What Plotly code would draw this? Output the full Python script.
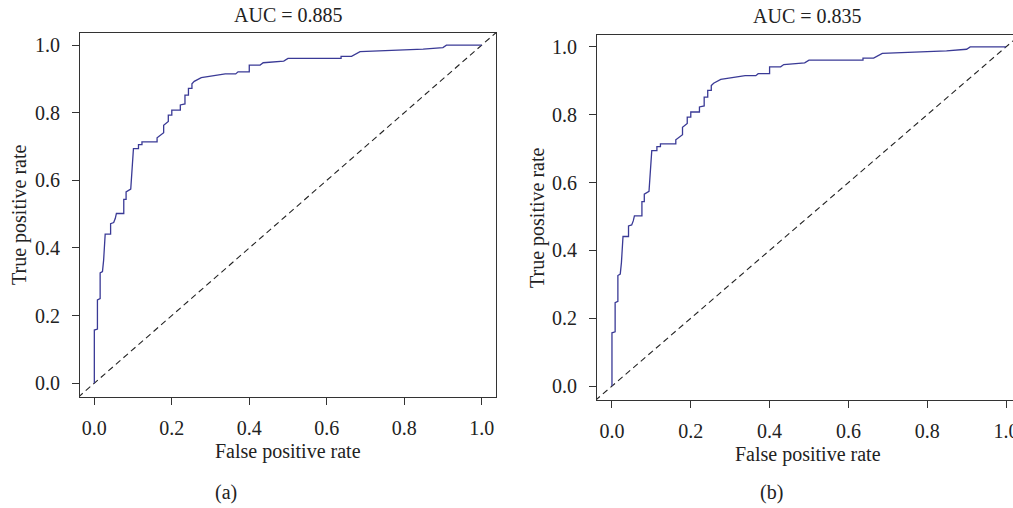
import plotly.graph_objects as go

# ROC curve points (same curve drawn in both panels)
fpr = [0, 0, 0.008, 0.008, 0.015, 0.015, 0.021, 0.024, 0.028, 0.042, 0.042, 0.050, 0.054, 0.057,
       0.076, 0.076, 0.082, 0.082, 0.094, 0.096, 0.101, 0.114, 0.114, 0.123, 0.123, 0.162, 0.162,
       0.179, 0.179, 0.191, 0.191, 0.200, 0.200, 0.222, 0.222, 0.234, 0.234, 0.243, 0.243, 0.252,
       0.252, 0.258, 0.276, 0.338, 0.365, 0.371, 0.400, 0.400, 0.428, 0.436, 0.489, 0.500, 0.637,
       0.637, 0.664, 0.686, 0.849, 0.900, 0.909, 1.0]
tpr = [0, 0.157, 0.160, 0.246, 0.250, 0.326, 0.330, 0.364, 0.441, 0.441, 0.472, 0.475, 0.487, 0.502,
       0.502, 0.544, 0.544, 0.566, 0.574, 0.620, 0.694, 0.694, 0.706, 0.706, 0.714, 0.714, 0.726,
       0.741, 0.763, 0.774, 0.793, 0.793, 0.808, 0.808, 0.823, 0.826, 0.852, 0.852, 0.872, 0.872,
       0.886, 0.893, 0.904, 0.915, 0.915, 0.921, 0.921, 0.941, 0.941, 0.948, 0.953, 0.961, 0.961,
       0.967, 0.967, 0.981, 0.988, 0.993, 1.0, 1.0]

diag = [-0.1, 1.1]
titles = ["AUC = 0.885", "AUC = 0.835"]
captions = ["(a)", "(b)"]
tick_vals = [0.0, 0.2, 0.4, 0.6, 0.8, 1.0]
tick_text = ["0.0", "0.2", "0.4", "0.6", "0.8", "1.0"]

# The figure is a bit wider than the 1013 px window: the right panel runs past the window edge
W, H = 1036, 508
FONT = "Liberation Serif"
FS = 20
CURVE = "#3a3a96"
AX = "#333333"
TXT = "#222222"

fig = go.Figure()
for i, ax in enumerate(["", "2"]):
    fig.add_trace(go.Scatter(x=diag, y=diag, mode="lines", xaxis="x" + ax, yaxis="y" + ax,
                             line=dict(color="#222222", width=1.1, dash="6px,4px"),
                             showlegend=False, hoverinfo="skip"))
    fig.add_trace(go.Scatter(x=fpr, y=tpr, mode="lines", xaxis="x" + ax, yaxis="y" + ax,
                             line=dict(color=CURVE, width=1.3),
                             showlegend=False))

def px_x(p):
    return p / W

def px_y(p):
    return 1 - p / H

axis_common = dict(showline=True, linecolor=AX, linewidth=1.2, mirror=True, ticks="outside",
                   ticklen=7, tickwidth=1.1, tickcolor=AX, showgrid=False, zeroline=False,
                   tickvals=tick_vals, ticktext=tick_text, ticklabeloverflow="allow",
                   tickfont=dict(family=FONT, size=FS, color=TXT))

fig.update_layout(
    width=W, height=H, margin=dict(l=0, r=0, t=0, b=0),
    plot_bgcolor="white", paper_bgcolor="white",
    xaxis=dict(domain=[px_x(80), px_x(496)], range=[-0.037, 1.037], anchor="y",
               ticklabelstandoff=6, **axis_common),
    yaxis=dict(domain=[px_y(397), px_y(33)], range=[-0.041, 1.036], anchor="x",
               ticklabelstandoff=8, **axis_common),
    xaxis2=dict(domain=[px_x(597), px_x(1021)], range=[-0.038, 1.038], anchor="y2",
                ticklabelstandoff=6, **axis_common),
    yaxis2=dict(domain=[px_y(400), px_y(35)], range=[-0.041, 1.035], anchor="x2",
                ticklabelstandoff=8, **axis_common),
)

ann_font = dict(family=FONT, size=FS, color=TXT)
# titles
fig.add_annotation(text=titles[0], x=px_x(288), y=px_y(15), xref="paper", yref="paper",
                   showarrow=False, font=ann_font, xanchor="center", yanchor="middle")
fig.add_annotation(text=titles[1], x=px_x(807), y=px_y(16), xref="paper", yref="paper",
                   showarrow=False, font=ann_font, xanchor="center", yanchor="middle")
# x axis titles
fig.add_annotation(text="False positive rate", x=px_x(288), y=px_y(451), xref="paper", yref="paper",
                   showarrow=False, font=ann_font, xanchor="center", yanchor="middle")
fig.add_annotation(text="False positive rate", x=px_x(808), y=px_y(454), xref="paper", yref="paper",
                   showarrow=False, font=ann_font, xanchor="center", yanchor="middle")
# y axis titles
fig.add_annotation(text="True positive rate", x=px_x(19), y=px_y(215), xref="paper", yref="paper",
                   showarrow=False, font=ann_font, textangle=-90, xanchor="center", yanchor="middle")
fig.add_annotation(text="True positive rate", x=px_x(537), y=px_y(218), xref="paper", yref="paper",
                   showarrow=False, font=ann_font, textangle=-90, xanchor="center", yanchor="middle")
# captions
fig.add_annotation(text=captions[0], x=px_x(226), y=px_y(492), xref="paper", yref="paper",
                   showarrow=False, font=ann_font, xanchor="center", yanchor="middle")
fig.add_annotation(text=captions[1], x=px_x(771), y=px_y(492), xref="paper", yref="paper",
                   showarrow=False, font=ann_font, xanchor="center", yanchor="middle")

fig.write_html("out.html", config={"displayModeBar": False})

# remove default browser body margin so the figure sits at the window's top-left corner
with open("out.html", "r", encoding="utf-8") as f:
    html = f.read()
html = html.replace("<head>", "<head><style>html,body{margin:0;padding:0;overflow:hidden;}</style>", 1)
with open("out.html", "w", encoding="utf-8") as f:
    f.write(html)
